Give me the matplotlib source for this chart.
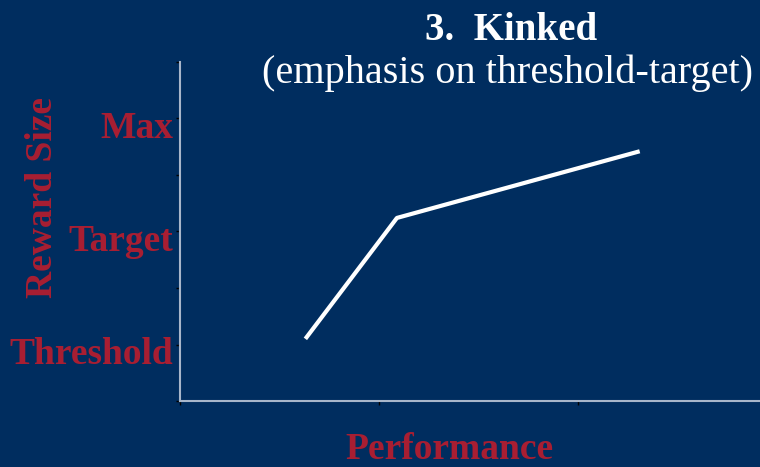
import matplotlib
matplotlib.use("Agg")
import matplotlib.pyplot as plt
import matplotlib.transforms as mtransforms

# Data
perf_x = [0.63, 1.09, 2.31]
reward_y = [1.10, 3.24, 4.42]
ytick_pos = [0, 1, 2, 3, 4, 5, 6]
ytick_labels = ["", "Threshold", "", "Target", "", "Max", ""]
xtick_pos = [0, 1, 2, 3, 4]
title_main = "3.  Kinked"
title_sub = "(emphasis on threshold-target)"
xlabel = "Performance"
ylabel = "Reward Size"

BG = "#002D5F"
RED = "#A81E32"
SPINE = "#A8B6CA"
W, H = 760, 467
plt.rcParams['font.family'] = ['Liberation Serif', 'DejaVu Serif']

fig = plt.figure(figsize=(7.6, 4.67), dpi=100, facecolor=BG)
ax = fig.add_axes([180 / W, 66 / H, 796 / W, 339 / H])
ax.set_facecolor(BG)
ax.plot(perf_x, reward_y, color="white", lw=3, solid_capstyle="butt")
ax.set_xlim(0, 4)
ax.set_ylim(0, 6)
ax.set_xticks(xtick_pos)
ax.set_xticklabels([""] * len(xtick_pos))
ax.set_yticks(ytick_pos)
ax.set_yticklabels(ytick_labels, color=RED, fontsize=27, fontweight="bold")
ax.tick_params(axis="both", colors="black", length=3, width=1, direction="out", pad=2)
for lab in ax.get_yticklabels():
    lab.set_color(RED)
    lab.set_transform(lab.get_transform() + mtransforms.ScaledTranslation(0, -6 / 100, fig.dpi_scale_trans))
for side in ["top", "right"]:
    ax.spines[side].set_visible(False)
for side in ["left", "bottom"]:
    ax.spines[side].set_color(SPINE)
    ax.spines[side].set_linewidth(1.5)

fig.text(511 / W, 1 - 40 / H, title_main, color="white", fontsize=28, fontweight="bold",
         ha="center", va="baseline")
fig.text(508 / W, 1 - 83 / H, title_sub, color="white", fontsize=29,
         ha="center", va="baseline")
fig.text(449 / W, 1 - 459 / H, xlabel, color=RED, fontsize=27, fontweight="bold",
         ha="center", va="baseline")
fig.text(52 / W, 1 - 198 / H, ylabel, color=RED, fontsize=27, fontweight="bold",
         ha="center", va="baseline", rotation=90, rotation_mode="anchor")

fig.savefig("out.png", dpi=100, facecolor=BG)
